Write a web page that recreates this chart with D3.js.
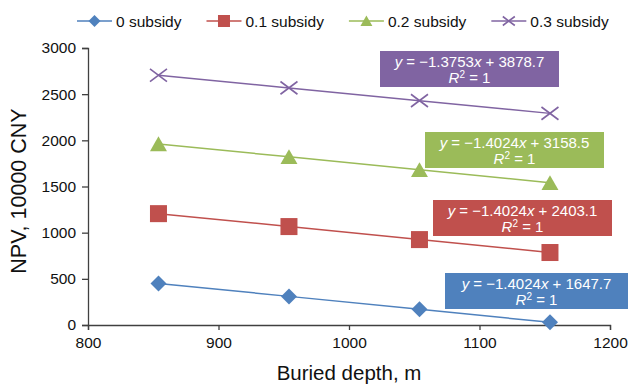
<!DOCTYPE html>
<html>
<head>
<meta charset="utf-8">
<script src="https://cdn.jsdelivr.net/npm/d3@7"></script>
<style>
  body { margin: 0; background: #fff; }
  svg { font-family: "Liberation Sans", Arial, sans-serif; }
</style>
</head>
<body>
<div id="chart"></div>
<script>
// data
const depths = [854, 954, 1054, 1154]
const seriesNames = ['0 subsidy', '0.1 subsidy', '0.2 subsidy', '0.3 subsidy']
const npv0 = [450, 310, 170, 29]
const npv1 = [1206, 1066, 925, 785]
const npv2 = [1961, 1821, 1681, 1540]
const npv3 = [2705, 2568, 2430, 2292]
const slopes = ['1.4024', '1.4024', '1.4024', '1.3753']
const intercepts = ['1647.7', '2403.1', '3158.5', '3878.7']
const xTicks = [800, 900, 1000, 1100, 1200]
const yTicks = [0, 500, 1000, 1500, 2000, 2500, 3000]

const colors = ['#4F81BD', '#C0504D', '#9BBB59', '#8064A2']
const shapes = ['diamond', 'square', 'triangle', 'cross']
const allValues = [npv0, npv1, npv2, npv3]

const width = 628
const height = 386
const margin = { top: 48, right: 18, bottom: 61, left: 88 }

const svg = d3.select('#chart')
  .append('svg')
  .attr('width', width)
  .attr('height', height)

const x = d3.scaleLinear().domain([800, 1200]).range([margin.left, width - margin.right])
const y = d3.scaleLinear().domain([0, 3000]).range([height - margin.bottom, margin.top])

const axisColor = '#404040'

// axes
const xAxis = svg.append('g')
  .attr('transform', `translate(0,${height - margin.bottom})`)
  .call(d3.axisBottom(x).tickValues(xTicks).tickSize(5).tickPadding(7).tickFormat(d3.format('d')))
const yAxis = svg.append('g')
  .attr('transform', `translate(${margin.left},0)`)
  .call(d3.axisLeft(y).tickValues(yTicks).tickSize(6).tickPadding(6).tickFormat(d3.format('d')))

;[xAxis, yAxis].forEach(a => {
  a.select('.domain').attr('stroke', axisColor).attr('stroke-width', 1.3)
  a.selectAll('.tick line').attr('stroke', axisColor).attr('stroke-width', 1.3)
  a.selectAll('.tick text').attr('fill', '#111').style('font-size', '15.5px')
    .style('font-family', '"Liberation Sans", Arial, sans-serif')
})

// axis titles
svg.append('text')
  .attr('x', (margin.left + width - margin.right) / 2)
  .attr('y', 380)
  .attr('text-anchor', 'middle')
  .style('font-size', '20.5px')
  .attr('fill', '#111')
  .text('Buried depth, m')

svg.append('text')
  .attr('transform', 'translate(26,191) rotate(-90)')
  .attr('text-anchor', 'middle')
  .style('font-size', '21.5px')
  .attr('fill', '#111')
  .text('NPV, 10000 CNY')

// marker helper
function drawMarker(g, shape, color, s) {
  const h = s / 2
  if (shape === 'diamond') {
    g.append('path').attr('d', `M0,${-h}L${h},0L0,${h}L${-h},0Z`).attr('fill', color)
  } else if (shape === 'square') {
    g.append('rect').attr('x', -h).attr('y', -h).attr('width', s).attr('height', s).attr('fill', color)
  } else if (shape === 'triangle') {
    g.append('path').attr('d', `M0,${-h * 0.9}L${h},${h * 0.85}L${-h},${h * 0.85}Z`).attr('fill', color)
  } else {
    g.append('path').attr('d', `M${-h},${-h * 0.75}L${h},${h * 0.75}M${-h},${h * 0.75}L${h},${-h * 0.75}`)
      .attr('stroke', color).attr('stroke-width', 1.6).attr('fill', 'none')
  }
}

const markerSize = [16, 17, 17, 17]

const line = d3.line().x(d => x(d[0])).y(d => y(d[1]))

allValues.forEach((vals, i) => {
  const pts = depths.map((d, j) => [d, vals[j]])
  svg.append('path')
    .datum(pts)
    .attr('d', line)
    .attr('fill', 'none')
    .attr('stroke', colors[i])
    .attr('stroke-width', 1.5)
  pts.forEach(p => {
    const g = svg.append('g').attr('transform', `translate(${x(p[0])},${y(p[1])})`)
    drawMarker(g, shapes[i], colors[i], markerSize[i])
  })
})

// legend
let lx = 77
seriesNames.forEach((name, i) => {
  const g = svg.append('g').attr('transform', `translate(${lx},21)`)
  g.append('line').attr('x1', 0).attr('x2', 35).attr('stroke', colors[i]).attr('stroke-width', 1.5)
  const m = g.append('g').attr('transform', 'translate(17.5,0)')
  drawMarker(m, shapes[i], colors[i], 12)
  const t = g.append('text')
    .attr('x', 39)
    .attr('y', 5.5)
    .style('font-size', '15.5px')
    .attr('fill', '#111')
    .text(name)
  lx += 39 + t.node().getComputedTextLength() + 25
})

// trendline equation boxes
const boxes = [
  { left: 445, top: 273, w: 183 },
  { left: 433, top: 200, w: 179 },
  { left: 425, top: 132, w: 179 },
  { left: 380, top: 51, w: 179 }
]
const boxH = 36

boxes.forEach((b, i) => {
  const g = svg.append('g').attr('transform', `translate(${b.left},${b.top})`)
  g.append('rect').attr('width', b.w).attr('height', boxH).attr('fill', colors[i])
  const t1 = g.append('text')
    .attr('x', b.w / 2).attr('y', 16)
    .attr('text-anchor', 'middle')
    .attr('fill', '#fff')
    .style('font-size', '15px')
  t1.append('tspan').style('font-style', 'italic').text('y')
  t1.append('tspan').text(' = \u2212' + slopes[i])
  t1.append('tspan').style('font-style', 'italic').text('x')
  t1.append('tspan').text(' + ' + intercepts[i])
  const t2 = g.append('text')
    .attr('x', b.w / 2).attr('y', 31.5)
    .attr('text-anchor', 'middle')
    .attr('fill', '#fff')
    .style('font-size', '15px')
  t2.append('tspan').style('font-style', 'italic').text('R')
  t2.append('tspan').style('font-size', '10px').attr('dy', -5).text('2')
  t2.append('tspan').attr('dy', 5).text(' = 1')
})
</script>
</body>
</html>
